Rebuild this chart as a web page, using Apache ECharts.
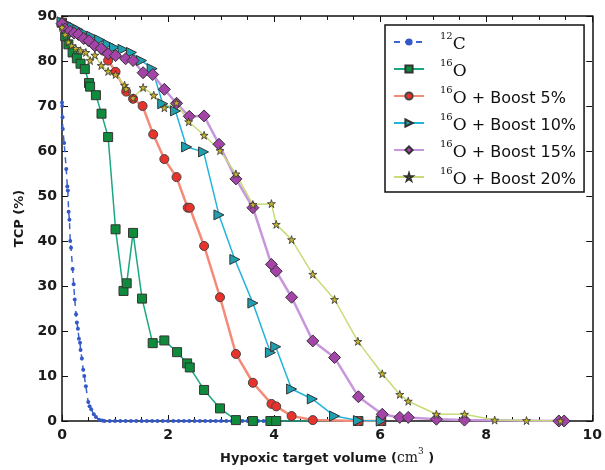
<!DOCTYPE html>
<html>
<head>
<meta charset="utf-8">
<script src="https://cdn.jsdelivr.net/npm/echarts@6/dist/echarts.min.js"></script>
<style>
  html, body { margin: 0; padding: 0; background: #fff; }
  #chart { width: 605px; height: 470px; }
</style>
</head>
<body>
<div id="chart"></div>
<script>
// TCP curves vs hypoxic target volume
var c12Data = [
  [0.0, 70.8], [0.005, 70], [0.01, 67.5], [0.015, 64.9], [0.04, 61.8], [0.08, 56], [0.1, 52.1],
  [0.11, 51.2], [0.125, 46.5], [0.14, 44.7], [0.155, 40], [0.17, 38.5], [0.2, 33.8], [0.22, 30.4],
  [0.24, 27], [0.265, 23.7], [0.28, 21.9], [0.3, 20.5], [0.32, 18.3], [0.34, 17.4], [0.35, 15.8],
  [0.375, 13.9], [0.4, 11.4], [0.42, 10], [0.45, 7.7], [0.495, 4.2], [0.52, 3.3], [0.55, 2.6],
  [0.6, 1.5], [0.64, 0.9], [0.7, 0.3], [0.76, 0.1], [0.8, 0], [0.9, 0], [1.0, 0], [1.1, 0],
  [1.2, 0], [1.3, 0], [1.4, 0], [1.5, 0], [1.6, 0], [1.7, 0], [1.8, 0], [1.9, 0], [2.0, 0],
  [2.1, 0], [2.2, 0], [2.3, 0], [2.4, 0], [2.5, 0], [2.6, 0], [2.7, 0], [2.8, 0], [2.9, 0],
  [3.0, 0], [3.1, 0], [3.2, 0], [3.3, 0], [3.4, 0], [3.5, 0], [3.6, 0], [3.7, 0], [3.8, 0],
  [3.9, 0], [4.0, 0]
];
var o16Data = [
  [0, 88.5], [0.06, 85.5], [0.12, 83.7], [0.2, 81.9], [0.28, 80.6], [0.35, 79.4], [0.43, 78.2],
  [0.51, 75.1], [0.53, 74.3], [0.64, 72.4], [0.745, 68.3], [0.87, 63.1], [1.01, 42.6], [1.16, 28.9],
  [1.22, 30.6], [1.34, 41.8], [1.51, 27.2], [1.71, 17.3], [1.93, 17.9], [2.17, 15.3], [2.36, 12.8],
  [2.41, 11.9], [2.68, 6.9], [2.98, 2.8], [3.28, 0.2], [3.6, 0], [3.93, 0], [4.04, 0], [5.59, 0], [6.02, 0]
];
var boost5Data = [
  [0, 88.6], [0.12, 87.6], [0.26, 86.5], [0.35, 85.7], [0.45, 84.9], [0.53, 84.2], [0.62, 83.4],
  [0.78, 82.3], [0.87, 80.1], [1.01, 77.6], [1.21, 73.2], [1.34, 71.6], [1.52, 70], [1.72, 63.7],
  [1.93, 58.2], [2.16, 54.2], [2.37, 47.4], [2.41, 47.4], [2.68, 38.9], [2.98, 27.5], [3.28, 14.9],
  [3.6, 8.5], [3.95, 3.8], [4.04, 3.25], [4.33, 1.1], [4.73, 0.2], [5.59, 0], [6.02, 0]
];
var boost10Data = [
  [0, 88.7], [0.1, 88.2], [0.2, 87.6], [0.3, 87], [0.4, 86.3], [0.56, 85.5], [0.71, 84.7],
  [0.87, 83.7], [0.99, 83], [1.15, 82.6], [1.31, 81.9], [1.5, 80.1], [1.7, 78.3], [1.9, 70.5],
  [2.14, 68.9], [2.35, 60.9], [2.67, 59.8], [2.96, 45.8], [3.26, 35.9], [3.6, 26.2], [3.93, 15.2],
  [4.03, 16.5], [4.33, 7.1], [4.72, 4.9], [5.14, 1.1], [5.59, 0.1], [6.02, 0]
];
var boost15Data = [
  [0, 88.3], [0.06, 87.1], [0.15, 86.6], [0.23, 86.2], [0.31, 85.9], [0.41, 85], [0.51, 84.5],
  [0.62, 83.4], [0.74, 82.8], [0.87, 81.6], [1.01, 81.2], [1.2, 80.5], [1.34, 80.1], [1.53, 77.4],
  [1.71, 77], [1.93, 73.7], [2.16, 70.6], [2.4, 67.7], [2.68, 67.8], [2.96, 61.5], [3.28, 53.8],
  [3.6, 47.4], [3.95, 34.8], [4.04, 33.3], [4.33, 27.5], [4.73, 17.8], [5.14, 14.1], [5.59, 5.4],
  [6.04, 1.5], [6.37, 0.8], [6.53, 0.8], [7.06, 0.4], [7.59, 0.2], [9.37, 0], [9.47, 0]
];
var boost20Data = [
  [0, 87.5], [0.06, 85.9], [0.12, 84.2], [0.18, 83.4], [0.26, 82.8], [0.35, 82.3], [0.45, 81.9],
  [0.53, 80.1], [0.62, 81.3], [0.74, 79], [0.87, 77.7], [1.01, 77], [1.18, 74.6], [1.21, 73.8],
  [1.34, 71.8], [1.53, 74.1], [1.73, 72.4], [1.93, 69.6], [2.16, 70.7], [2.39, 66.5], [2.68, 63.5],
  [2.98, 60.1], [3.28, 54.9], [3.6, 48.1], [3.95, 48.3], [4.04, 43.7], [4.33, 40.3], [4.73, 32.6],
  [5.14, 27], [5.58, 17.7], [6.04, 10.5], [6.37, 5.9], [6.53, 4.4], [7.06, 1.5], [7.59, 1.5],
  [8.16, 0.2], [8.76, 0.1], [9.4, 0]
];

var seriesNames = ['12C', '16O', '16O + Boost 5%', '16O + Boost 10%', '16O + Boost 15%', '16O + Boost 20%'];
var legendText = {
  '12C': '{gap|}{sup|12}{el|C}',
  '16O': '{gap|}{sup|16}{el|O}',
  '16O + Boost 5%': '{gap|}{sup|16}{el|O}{t| + Boost 5%}',
  '16O + Boost 10%': '{gap|}{sup|16}{el|O}{t| + Boost 10%}',
  '16O + Boost 15%': '{gap|}{sup|16}{el|O}{t| + Boost 15%}',
  '16O + Boost 20%': '{gap|}{sup|16}{el|O}{t| + Boost 20%}'
};

var starPath = 'path://M50,0 L61,35 L98,35 L68,57 L79,91 L50,70 L21,91 L32,57 L2,35 L39,35 Z';
var sans = '"DejaVu Sans", sans-serif';
var serif = '"DejaVu Serif", "Liberation Serif", serif';

var chart = echarts.init(document.getElementById('chart'));

function axisX(pos, showLabel) {
  return {
    type: 'value', position: pos, min: 0, max: 10, interval: 2,
    axisLine: { show: true, onZero: false, lineStyle: { color: '#111', width: 1.5 } },
    axisTick: { show: true, inside: true, length: 6, lineStyle: { color: '#111' } },
    minorTick: { show: true, splitNumber: 4, length: 4, lineStyle: { color: '#111' } },
    splitLine: { show: false },
    axisLabel: { show: showLabel, color: '#1a1a1a', fontFamily: sans, fontWeight: 'bold', fontSize: 14, margin: 7 }
  };
}
function axisY(pos, showLabel) {
  return {
    type: 'value', position: pos, min: 0, max: 90, interval: 10,
    axisLine: { show: true, onZero: false, lineStyle: { color: '#111', width: 1.5 } },
    axisTick: { show: true, inside: true, length: 6, lineStyle: { color: '#111' } },
    splitLine: { show: false },
    axisLabel: { show: showLabel, color: '#1a1a1a', fontFamily: sans, fontWeight: 'bold', fontSize: 14, margin: 5 }
  };
}

var xBottom = axisX('bottom', true);
xBottom.name = '{a|Hypoxic target volume (}{b|cm}{s|3}{a| )}';
xBottom.nameLocation = 'middle';
xBottom.nameGap = 26;
xBottom.nameTextStyle = {
  rich: {
    a: { fontFamily: sans, fontWeight: 'bold', fontSize: 13, color: '#1a1a1a', lineHeight: 18, verticalAlign: 'bottom' },
    b: { fontFamily: serif, fontSize: 14, color: '#1a1a1a', lineHeight: 18, verticalAlign: 'bottom' },
    s: { fontFamily: serif, fontSize: 9, color: '#1a1a1a', lineHeight: 10, verticalAlign: 'top' }
  }
};
var xTop = axisX('top', false);
var yLeft = axisY('left', true);
yLeft.name = 'TCP (%)';
yLeft.nameLocation = 'middle';
yLeft.nameGap = 36;
yLeft.nameTextStyle = { fontFamily: sans, fontWeight: 'bold', fontSize: 13, color: '#1a1a1a' };
var yRight = axisY('right', false);

function mk(name, data, o) {
  return {
    name: name, type: 'line', data: data, xAxisIndex: 0, yAxisIndex: 0,
    symbol: o.symbol, symbolSize: o.size, symbolRotate: o.rotate || 0,
    showAllSymbol: true, animation: false,
    lineStyle: { color: o.line, width: o.width, type: o.dash || 'solid' },
    itemStyle: { color: o.fill, borderColor: o.edge, borderWidth: o.edgeW }
  };
}

var option = {
  backgroundColor: '#ffffff',
  animation: false,
  grid: { left: 62, right: 10, top: 16, bottom: 39, containLabel: false },
  xAxis: [xBottom, xTop],
  yAxis: [yLeft, yRight],
  legend: {
    data: seriesNames,
    orient: 'vertical',
    left: 385, top: 25,
    padding: [6, 8, 4, 8],
    itemGap: 5,
    itemWidth: 30, itemHeight: 9,
    backgroundColor: '#fff',
    borderColor: '#111', borderWidth: 1.5,
    formatter: function (n) { return legendText[n]; },
    textStyle: {
      rich: {
        gap: { width: 11 },
        sup: { fontFamily: serif, fontSize: 10, color: '#111', lineHeight: 10, verticalAlign: 'top' },
        el: { fontFamily: serif, fontSize: 17, color: '#111', lineHeight: 22, verticalAlign: 'bottom' },
        t: { fontFamily: sans, fontSize: 16, color: '#111', lineHeight: 22, verticalAlign: 'bottom' }
      }
    }
  },
  series: [
    mk(seriesNames[0], c12Data, { symbol: 'circle', size: 4, line: '#3a62d0', width: 1.5, dash: [6, 5], fill: '#3558c8', edge: '#3558c8', edgeW: 0 }),
    mk(seriesNames[1], o16Data, { symbol: 'rect', size: 9, line: '#1aa882', width: 1.5, fill: '#0e8c3c', edge: '#333', edgeW: 1 }),
    mk(seriesNames[2], boost5Data, { symbol: 'circle', size: 9, line: '#f58a78', width: 2.5, fill: '#e8322c', edge: '#444', edgeW: 1 }),
    mk(seriesNames[3], boost10Data, { symbol: 'triangle', size: 10, rotate: -90, line: '#22b4dc', width: 1.5, fill: '#1ea0b0', edge: '#333', edgeW: 1 }),
    mk(seriesNames[4], boost15Data, { symbol: 'diamond', size: 12, line: '#c896dc', width: 2.5, fill: '#a444a8', edge: '#333', edgeW: 1 }),
    mk(seriesNames[5], boost20Data, { symbol: starPath, size: 8, line: '#c6dc78', width: 1.5, fill: '#c8b42a', edge: '#333', edgeW: 0.8 })
  ]
};
chart.setOption(option);
</script>
</body>
</html>
